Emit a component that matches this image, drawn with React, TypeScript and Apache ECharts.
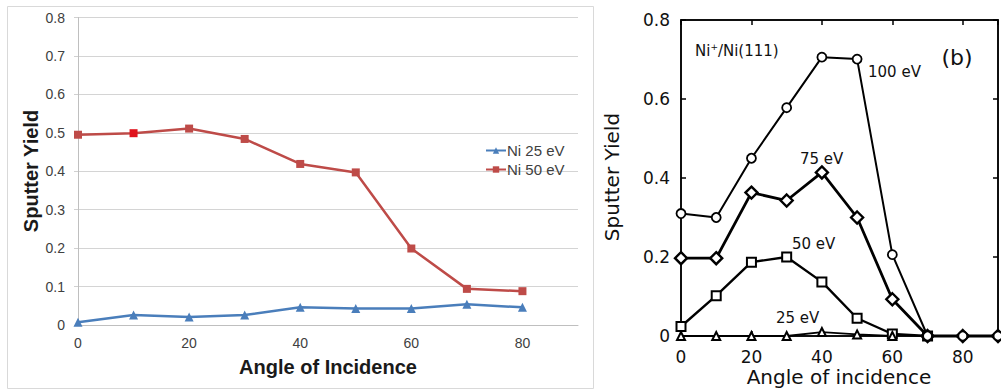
import React, { useEffect, useRef } from "react";
import * as echarts from "echarts";

// Panel (a): Ni sputter yield vs angle of incidence
const anglesA = [0, 10, 20, 30, 40, 50, 60, 70, 80];
const ni25 = [0.007, 0.026, 0.021, 0.026, 0.046, 0.043, 0.043, 0.054, 0.046];
const ni50 = [0.495, 0.499, 0.511, 0.484, 0.419, 0.397, 0.199, 0.094, 0.088];

// Panel (b): Ni+/Ni(111) sputter yield vs angle of incidence
const anglesB = [0, 10, 20, 30, 40, 50, 60, 70, 80, 90];
const y100 = [0.31, 0.3, 0.45, 0.578, 0.706, 0.701, 0.206, 0, 0, 0];
const y75 = [0.197, 0.197, 0.363, 0.343, 0.414, 0.3, 0.093, 0, 0, 0];
const y50 = [0.024, 0.102, 0.187, 0.2, 0.137, 0.045, 0.005, 0];
const y25 = [0, 0, 0, 0, 0.01, 0.004, 0];

const pairs = (xs: number[], ys: number[]) => ys.map((v, i) => [xs[i], v]);

const SANS = "Liberation Sans";
const DV = "DejaVu Sans";

export default function App() {
  const ref = useRef<HTMLDivElement>(null);

  useEffect(() => {
    if (!ref.current) return;
    const chart = echarts.init(ref.current, undefined, { renderer: "svg" });

    const openMarker = { color: "#fff", borderColor: "#000", borderWidth: 2 };
    const boxLine = { show: true, onZero: false, lineStyle: { color: "#000", width: 1.5 } };
    const boxTick = { show: true, inside: true, length: 5, lineStyle: { color: "#000", width: 1.5 } };

    chart.setOption({
      animation: false,
      backgroundColor: "#fff",
      legend: {
        orient: "vertical",
        left: 480,
        top: 138,
        itemWidth: 20,
        itemHeight: 8,
        itemGap: 4,
        data: ["Ni 25 eV", "Ni 50 eV"],
        textStyle: { fontFamily: SANS, fontSize: 15, color: "#404040", padding: [0, 0, 0, -4] },
      },
      grid: [
        { left: 78, top: 17.5, width: 500, height: 307.5 },
        {
          left: 681,
          top: 20,
          width: 317,
          height: 316,
          show: true,
          borderColor: "#000",
          borderWidth: 1.5,
          backgroundColor: "transparent",
        },
      ],
      xAxis: [
        {
          gridIndex: 0,
          type: "value",
          min: 0,
          max: 90,
          interval: 20,
          axisLine: { show: true, lineStyle: { color: "#bfbfbf", width: 1 } },
          axisTick: { show: false },
          splitLine: { show: false },
          axisLabel: {
            showMaxLabel: false,
            margin: 11,
            fontFamily: SANS,
            fontSize: 14,
            color: "#404040",
          },
        },
        {
          gridIndex: 1,
          type: "value",
          min: 0,
          max: 90,
          interval: 20,
          axisLine: boxLine,
          axisTick: boxTick,
          splitLine: { show: false },
          axisLabel: {
            showMaxLabel: false,
            margin: 12,
            fontFamily: DV,
            fontSize: 17,
            color: "#111",
          },
        },
        {
          gridIndex: 1,
          type: "value",
          position: "top",
          min: 0,
          max: 90,
          interval: 20,
          axisLine: boxLine,
          axisTick: boxTick,
          splitLine: { show: false },
          axisLabel: { show: false },
        },
      ],
      yAxis: [
        {
          gridIndex: 0,
          type: "value",
          min: 0,
          max: 0.8,
          interval: 0.1,
          axisLine: { show: true, lineStyle: { color: "#bfbfbf", width: 1 } },
          axisTick: { show: true, length: 4, lineStyle: { color: "#d0d0d0" } },
          splitLine: { show: true, lineStyle: { color: "#d4d4d4", width: 1 } },
          axisLabel: { margin: 13, fontFamily: SANS, fontSize: 14, color: "#404040" },
        },
        {
          gridIndex: 1,
          type: "value",
          min: 0,
          max: 0.8,
          interval: 0.2,
          axisLine: boxLine,
          axisTick: boxTick,
          splitLine: { show: false },
          axisLabel: { margin: 11, fontFamily: DV, fontSize: 17, color: "#111" },
        },
        {
          gridIndex: 1,
          type: "value",
          position: "right",
          min: 0,
          max: 0.8,
          interval: 0.2,
          axisLine: boxLine,
          axisTick: boxTick,
          splitLine: { show: false },
          axisLabel: { show: false },
        },
      ],
      series: [
        {
          name: "Ni 25 eV",
          type: "line",
          xAxisIndex: 0,
          yAxisIndex: 0,
          data: pairs(anglesA, ni25),
          symbol: "triangle",
          symbolSize: 9,
          lineStyle: { color: "#4a7ebb", width: 2.5 },
          itemStyle: { color: "#4a7ebb" },
        },
        {
          name: "Ni 50 eV",
          type: "line",
          xAxisIndex: 0,
          yAxisIndex: 0,
          data: pairs(anglesA, ni50).map((p, i) =>
            i === 1 ? { value: p, itemStyle: { color: "#e0121c" } } : p
          ),
          symbol: "rect",
          symbolSize: 8,
          lineStyle: { color: "#be4b48", width: 2.5 },
          itemStyle: { color: "#be4b48" },
        },
        {
          name: "100 eV",
          type: "line",
          xAxisIndex: 1,
          yAxisIndex: 1,
          clip: false,
          data: pairs(anglesB, y100),
          symbol: "circle",
          symbolSize: 9,
          lineStyle: { color: "#000", width: 2 },
          itemStyle: { ...openMarker, borderWidth: 1.8 },
          z: 3,
        },
        {
          name: "75 eV",
          type: "line",
          xAxisIndex: 1,
          yAxisIndex: 1,
          clip: false,
          data: pairs(anglesB, y75),
          symbol: "diamond",
          symbolSize: 12,
          lineStyle: { color: "#000", width: 2.8 },
          itemStyle: { ...openMarker, borderWidth: 2.4 },
          z: 2,
        },
        {
          name: "50 eV",
          type: "line",
          xAxisIndex: 1,
          yAxisIndex: 1,
          clip: false,
          data: pairs(anglesB, y50),
          symbol: "rect",
          symbolSize: 9,
          lineStyle: { color: "#000", width: 2.4 },
          itemStyle: { ...openMarker, borderWidth: 2 },
          z: 2,
        },
        {
          name: "25 eV",
          type: "line",
          xAxisIndex: 1,
          yAxisIndex: 1,
          clip: false,
          data: pairs(anglesB, y25),
          symbol: "triangle",
          symbolSize: 8,
          lineStyle: { color: "#000", width: 1.8 },
          itemStyle: { ...openMarker, borderWidth: 2 },
          z: 2,
        },
      ],
      graphic: [
        {
          type: "rect",
          shape: { x: 7.5, y: 6.5, width: 586, height: 382 },
          style: { fill: "none", stroke: "#d9d9d9", lineWidth: 1 },
          silent: true,
          z: -1,
        },
        {
          type: "text",
          x: 31,
          y: 171,
          rotation: Math.PI / 2,
          style: {
            text: "Sputter Yield",
            fontFamily: SANS,
            fontWeight: "bold",
            fontSize: 20,
            fill: "#1a1a1a",
            align: "center",
            verticalAlign: "middle",
          },
        },
        {
          type: "text",
          x: 328,
          y: 367,
          style: {
            text: "Angle of Incidence",
            fontFamily: SANS,
            fontWeight: "bold",
            fontSize: 20,
            fill: "#1a1a1a",
            align: "center",
            verticalAlign: "middle",
          },
        },
        {
          type: "text",
          x: 612,
          y: 177,
          rotation: Math.PI / 2,
          style: {
            text: "Sputter Yield",
            fontFamily: DV,
            fontSize: 20,
            fill: "#111",
            align: "center",
            verticalAlign: "middle",
          },
        },
        {
          type: "text",
          x: 839,
          y: 377,
          style: {
            text: "Angle of incidence",
            fontFamily: DV,
            fontSize: 20,
            fill: "#111",
            align: "center",
            verticalAlign: "middle",
          },
        },
        {
          type: "text",
          x: 695,
          y: 51,
          style: {
            text: "{n|Ni}{s|+}{n|/Ni(111)}",
            verticalAlign: "middle",
            rich: {
              n: { fontFamily: DV, fontSize: 15, fill: "#111" },
              s: { fontFamily: DV, fontSize: 9, fill: "#111", verticalAlign: "top", padding: [0, 0, 8, 0] },
            },
          },
        },
        {
          type: "text",
          x: 957,
          y: 57,
          style: {
            text: "(b)",
            fontFamily: DV,
            fontSize: 22,
            fill: "#111",
            align: "center",
            verticalAlign: "middle",
          },
        },
        {
          type: "text",
          x: 868,
          y: 72,
          style: { text: "100 eV", fontFamily: DV, fontSize: 15, fill: "#111", verticalAlign: "middle" },
        },
        {
          type: "text",
          x: 800,
          y: 159,
          style: { text: "75 eV", fontFamily: DV, fontSize: 15, fill: "#111", verticalAlign: "middle" },
        },
        {
          type: "text",
          x: 792,
          y: 244,
          style: { text: "50 eV", fontFamily: DV, fontSize: 15, fill: "#111", verticalAlign: "middle" },
        },
        {
          type: "text",
          x: 776,
          y: 318,
          style: { text: "25 eV", fontFamily: DV, fontSize: 15, fill: "#111", verticalAlign: "middle" },
        },
      ],
    });

    return () => chart.dispose();
  }, []);

  return (
    <div
      ref={ref}
      style={{ position: "absolute", left: 0, top: 0, width: 1001, height: 390, background: "#fff" }}
    />
  );
}
